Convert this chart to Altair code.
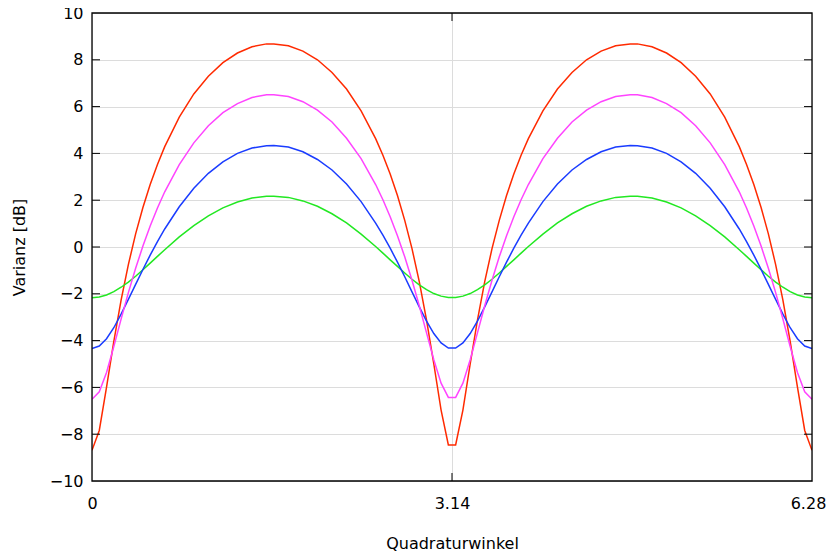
import altair as alt
import pandas as pd

# Quadrature angle (rad)
angle = [0.0, 0.0635, 0.1269, 0.1904, 0.2539, 0.3173, 0.3808, 0.4443, 0.5077, 0.5712, 0.6347, 0.7616, 0.8885,
         1.0155, 1.1424, 1.2693, 1.3963, 1.5232, 1.5867, 1.7136, 1.8405, 1.9675, 2.0944, 2.2213, 2.3483, 2.4752,
         2.5387, 2.6021, 2.6656, 2.7291, 2.7925, 2.8560, 2.9195, 2.9829, 3.0464, 3.1099, 3.1733, 3.2368, 3.3003,
         3.3637, 3.4272, 3.4907, 3.5541, 3.6176, 3.6811, 3.7445, 3.8080, 3.9349, 4.0619, 4.1888, 4.3157, 4.4427,
         4.5696, 4.6965, 4.7600, 4.8869, 5.0139, 5.1408, 5.2677, 5.3947, 5.5216, 5.6485, 5.7120, 5.7755, 5.8389,
         5.9024, 5.9659, 6.0293, 6.0928, 6.1563, 6.2197, 6.2832]

# Variance in dB for four squeezing strengths
var_red = [-8.69, -7.84, -5.99, -4.03, -2.27, -0.75, 0.56, 1.69, 2.67, 3.53, 4.29, 5.55, 6.54, 7.30, 7.88, 8.29, 8.56, 8.68,
           8.68, 8.60, 8.37, 8.00, 7.46, 6.75, 5.82, 4.63, 3.92, 3.12, 2.20, 1.14, -0.07, -1.48, -3.12, -5.00, -6.97, -8.46,
           -8.46, -6.97, -5.00, -3.12, -1.48, -0.07, 1.14, 2.20, 3.12, 3.92, 4.63, 5.82, 6.75, 7.46, 8.00, 8.37, 8.60, 8.68,
           8.68, 8.56, 8.29, 7.88, 7.30, 6.54, 5.55, 4.29, 3.53, 2.67, 1.69, 0.56, -0.75, -2.27, -4.03, -5.99, -7.84, -8.69]
var_magenta = [-6.51, -6.19, -5.36, -4.25, -3.08, -1.95, -0.91, 0.04, 0.90, 1.67, 2.36, 3.52, 4.45, 5.18, 5.74, 6.13, 6.39, 6.51,
               6.51, 6.43, 6.21, 5.85, 5.34, 4.65, 3.78, 2.67, 2.02, 1.29, 0.48, -0.42, -1.42, -2.51, -3.67, -4.82, -5.82, -6.43,
               -6.43, -5.82, -4.82, -3.67, -2.51, -1.42, -0.42, 0.48, 1.29, 2.02, 2.67, 3.78, 4.65, 5.34, 5.85, 6.21, 6.43, 6.51,
               6.51, 6.39, 6.13, 5.74, 5.18, 4.45, 3.52, 2.36, 1.67, 0.90, 0.04, -0.91, -1.95, -3.08, -4.25, -5.36, -6.19, -6.51]
var_blue = [-4.34, -4.23, -3.92, -3.45, -2.87, -2.24, -1.60, -0.96, -0.35, 0.23, 0.77, 1.72, 2.51, 3.15, 3.64, 4.00, 4.23, 4.33,
            4.34, 4.27, 4.07, 3.74, 3.29, 2.69, 1.94, 1.02, 0.51, -0.05, -0.65, -1.27, -1.92, -2.56, -3.17, -3.70, -4.10, -4.32,
            -4.32, -4.10, -3.70, -3.17, -2.56, -1.92, -1.27, -0.65, -0.05, 0.51, 1.02, 1.94, 2.69, 3.29, 3.74, 4.07, 4.27, 4.34,
            4.33, 4.23, 4.00, 3.64, 3.15, 2.51, 1.72, 0.77, 0.23, -0.35, -0.96, -1.60, -2.24, -2.87, -3.45, -3.92, -4.23, -4.34]
var_green = [-2.17, -2.14, -2.05, -1.91, -1.72, -1.50, -1.25, -0.97, -0.69, -0.40, -0.12, 0.43, 0.91, 1.33, 1.67, 1.92, 2.09, 2.17,
             2.17, 2.12, 1.97, 1.74, 1.42, 1.03, 0.55, 0.02, -0.26, -0.55, -0.83, -1.11, -1.38, -1.62, -1.82, -1.99, -2.10, -2.16,
             -2.16, -2.10, -1.99, -1.82, -1.62, -1.38, -1.11, -0.83, -0.55, -0.26, 0.02, 0.55, 1.03, 1.42, 1.74, 1.97, 2.12, 2.17,
             2.17, 2.09, 1.92, 1.67, 1.33, 0.91, 0.43, -0.12, -0.40, -0.69, -0.97, -1.25, -1.50, -1.72, -1.91, -2.05, -2.14, -2.17]

series = [("red", var_red, "#ff2a00"), ("green", var_green, "#22e822"),
          ("blue", var_blue, "#1a3cff"), ("magenta", var_magenta, "#ff44ff")]

y_ticks = [-10, -8, -6, -4, -2, 0, 2, 4, 6, 8, 10]
x_ticks = [0, 3.1416, 6.2832]
inner_y_ticks = [-8, -6, -4, -2, 0, 2, 4, 6, 8]
inner_x_ticks = [3.1416]

W, H = 720, 468
FONT = "DejaVu Sans"
FS = 16

xscale = alt.Scale(domain=[0, 6.2832], nice=False, zero=False)
yscale = alt.Scale(domain=[-10, 10], nice=False, zero=False)

xaxis = alt.Axis(values=x_ticks, labelExpr="datum.value == 0 ? '0' : format(datum.value, '.2f')",
                 labelOffset=alt.ExprRef(expr="datum.value > 6 ? -4 : 0"),
                 title="Quadraturwinkel", grid=True, gridColor="#dcdcdc", ticks=False, tickSize=0,
                 domain=False, labelPadding=14, labelFlush=False, labelFont=FONT, labelFontSize=FS,
                 labelColor="black", titleFont=FONT, titleFontSize=FS, titleFontWeight="normal",
                 titleColor="black", titleX=W / 2, titleY=67, titleBaseline="alphabetic")
yaxis = alt.Axis(values=y_ticks, title="Varianz [dB]", grid=True, gridColor="#dcdcdc", ticks=False,
                 tickSize=0, domain=False, labelPadding=9, labelFlush=False, labelFont=FONT,
                 labelFontSize=FS, labelColor="black", titleFont=FONT, titleFontSize=FS,
                 titleFontWeight="normal", titleColor="black", titleX=-73, titleY=H / 2,
                 titleBaseline="middle")

layers = []
for name, vals, col in series:
    d = pd.DataFrame({"angle": angle, "var": vals})
    layers.append(
        alt.Chart(d).mark_line(color=col, strokeWidth=1.5, clip=True).encode(
            x=alt.X("angle:Q", scale=xscale, axis=xaxis),
            y=alt.Y("var:Q", scale=yscale, axis=yaxis),
        )
    )

ty = pd.DataFrame({"var": inner_y_ticks})
tx = pd.DataFrame({"angle": inner_x_ticks})
tick_left = alt.Chart(ty).mark_rule(color="black", strokeWidth=1).encode(
    y=alt.Y("var:Q", scale=yscale, axis=yaxis), x=alt.value(0), x2=alt.value(8))
tick_right = alt.Chart(ty).mark_rule(color="black", strokeWidth=1).encode(
    y=alt.Y("var:Q", scale=yscale, axis=yaxis), x=alt.value(W - 8), x2=alt.value(W))
tick_bottom = alt.Chart(tx).mark_rule(color="black", strokeWidth=1).encode(
    x=alt.X("angle:Q", scale=xscale, axis=xaxis), y=alt.value(H - 8), y2=alt.value(H))
tick_top = alt.Chart(tx).mark_rule(color="black", strokeWidth=1).encode(
    x=alt.X("angle:Q", scale=xscale, axis=xaxis), y=alt.value(0), y2=alt.value(8))

frame = alt.Chart(tx).mark_rect(fill=None, stroke="black", strokeWidth=1.3).encode(
    x=alt.value(0), x2=alt.value(W), y=alt.value(0), y2=alt.value(H))

chart = alt.layer(*layers, tick_left, tick_right, tick_bottom, tick_top, frame).properties(
    width=W, height=H,
    autosize=alt.AutoSizeParams(type="none"),
    padding={"left": 84, "top": 5, "right": 14, "bottom": 74},
).configure_view(stroke=None).configure(background="white")

chart.save("out.html", embed_options={"renderer": "svg", "actions": False})
